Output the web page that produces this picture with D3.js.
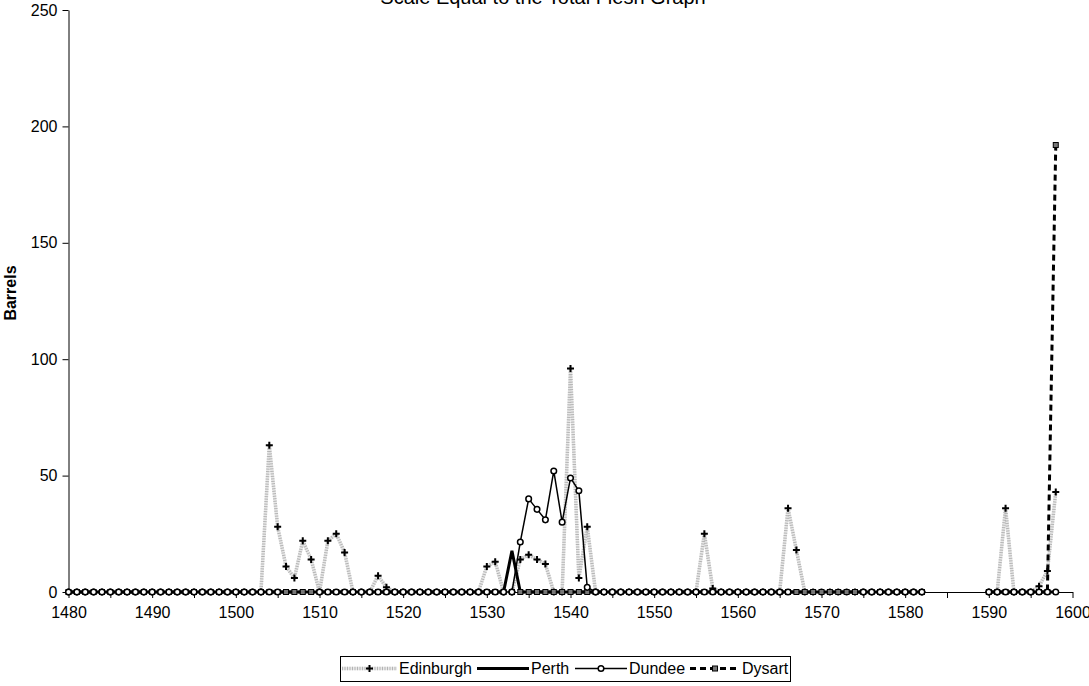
<!DOCTYPE html>
<html>
<head>
<meta charset="utf-8">
<script src="https://cdn.jsdelivr.net/npm/d3@7"></script>
<style>
  html, body { margin: 0; padding: 0; background: #fff; }
  svg { display: block; font-family: "Liberation Sans", Arial, sans-serif; }
</style>
</head>
<body>
<svg id="chart" width="1089" height="686"></svg>
<script>
// Years 1480–1598; 1583–1589 have no records (null)
const years = [
  1480,1481,1482,1483,1484,1485,1486,1487,1488,1489,
  1490,1491,1492,1493,1494,1495,1496,1497,1498,1499,
  1500,1501,1502,1503,1504,1505,1506,1507,1508,1509,
  1510,1511,1512,1513,1514,1515,1516,1517,1518,1519,
  1520,1521,1522,1523,1524,1525,1526,1527,1528,1529,
  1530,1531,1532,1533,1534,1535,1536,1537,1538,1539,
  1540,1541,1542,1543,1544,1545,1546,1547,1548,1549,
  1550,1551,1552,1553,1554,1555,1556,1557,1558,1559,
  1560,1561,1562,1563,1564,1565,1566,1567,1568,1569,
  1570,1571,1572,1573,1574,1575,1576,1577,1578,1579,
  1580,1581,1582,1583,1584,1585,1586,1587,1588,1589,
  1590,1591,1592,1593,1594,1595,1596,1597,1598
];

const edinburgh = [
  0,0,0,0,0,0,0,0,0,0,
  0,0,0,0,0,0,0,0,0,0,
  0,0,0,0,63,28,11,6,22,14,
  0,22,25,17,0,0,0,7,2,0,
  0,0,0,0,0,0,0,0,0,0,
  11,13,0,0,14,16,14,12,0,0,
  96,6,28,0,0,0,0,0,0,0,
  0,0,0,0,0,0,25,1.5,0,0,
  0,0,0,0,0,0,36,18,0,0,
  0,0,0,0,0,0,0,0,0,0,
  0,0,0,null,null,null,null,null,null,null,
  0,0,36,0,0,0,2.5,9,43
];

const perth = [
  0,0,0,0,0,0,0,0,0,0,
  0,0,0,0,0,0,0,0,0,0,
  0,0,0,0,0,0,0,0,0,0,
  0,0,0,0,0,0,0,0,0,0,
  0,0,0,0,0,0,0,0,0,0,
  0,0,0,17.7,0,0,0,0,0,0,
  0,0,0,0,0,0,0,0,0,0,
  0,0,0,0,0,0,0,0,0,0,
  0,0,0,0,0,0,0,0,0,0,
  0,0,0,0,0,0,0,0,0,0,
  0,0,0,null,null,null,null,null,null,null,
  0,0,0,0,0,0,0,0,0
];

const dundee = [
  0,0,0,0,0,0,0,0,0,0,
  0,0,0,0,0,0,0,0,0,0,
  0,0,0,0,0,0,null,null,null,null,
  0,0,0,0,0,0,0,0,0,0,
  0,0,0,0,0,0,0,0,0,0,
  0,0,0,0,21.5,40,35.5,31,52,30,
  49,43.5,2,0,0,0,0,0,0,0,
  0,0,0,0,0,0,0,0,0,0,
  0,0,0,0,0,0,0,null,null,null,
  null,null,null,null,null,0,0,0,0,0,
  0,0,0,null,null,null,null,null,null,null,
  0,0,0,0,0,0,0,0,0
];

const dysart = [
  0,0,0,0,0,0,0,0,0,0,
  0,0,0,0,0,0,0,0,0,0,
  0,0,0,0,0,0,0,0,0,0,
  0,0,0,0,0,0,0,0,0,0,
  0,0,0,0,0,0,0,0,0,0,
  0,0,0,0,0,0,0,0,0,0,
  0,0,0,0,0,0,0,0,0,0,
  0,0,0,0,0,0,0,0,0,0,
  0,0,0,0,0,0,0,0,0,0,
  0,0,0,0,0,0,0,0,0,0,
  0,0,0,null,null,null,null,null,null,null,
  0,0,0,0,0,0,0,0,192
];

const seriesNames = ["Edinburgh", "Perth", "Dundee", "Dysart"];
const xTickLabels = [1480,1490,1500,1510,1520,1530,1540,1550,1560,1570,1580,1590,1600];
const yTickLabels = [0,50,100,150,200,250];
const title = "Scale Equal to the Total Flesh Graph";
const yTitle = "Barrels";

const svg = d3.select("#chart");
const plot = { left: 68.5, right: 1072.5, top: 10, bottom: 592 };

const x = d3.scaleLinear().domain([1480, 1600]).range([plot.left, plot.right]);
const y = d3.scaleLinear().domain([0, 250]).range([plot.bottom, plot.top]);

// Title (sits at the very top edge)
svg.append("text")
  .attr("x", 543).attr("y", 4)
  .attr("text-anchor", "middle")
  .attr("font-size", 20)
  .text(title);

// Y axis
const yAxis = svg.append("g")
  .attr("transform", `translate(${plot.left},0)`)
  .call(d3.axisLeft(y).tickValues(yTickLabels).tickSize(6).tickPadding(5).tickSizeOuter(0));
yAxis.selectAll("text").attr("font-size", 16).attr("font-family", "Liberation Sans, Arial, sans-serif").attr("fill", "#000");

// X axis: ticks every 5 years, labels every 10
const xAxis = svg.append("g")
  .attr("transform", `translate(0,${plot.bottom})`)
  .call(d3.axisBottom(x).tickValues(d3.range(1480, 1601, 5)).tickSize(6).tickPadding(9).tickSizeOuter(0)
    .tickFormat(d => xTickLabels.includes(d) ? String(d) : ""));
xAxis.selectAll("text").attr("font-size", 16).attr("font-family", "Liberation Sans, Arial, sans-serif").attr("fill", "#000");
svg.selectAll(".domain, .tick line").attr("stroke", "#000").attr("stroke-width", 1);

// Y axis title
svg.append("text")
  .attr("transform", `translate(16,293) rotate(-90)`)
  .attr("text-anchor", "middle")
  .attr("font-size", 16)
  .attr("font-weight", "bold")
  .text(yTitle);

const toPoints = vals => years.map((yr, i) => ({ yr, v: vals[i] }));
const line = d3.line()
  .defined(d => d.v !== null)
  .x(d => x(d.yr))
  .y(d => y(d.v));

const g = svg.append("g");

// Marker shapes
function plus(sel, cx, cy) {
  sel.append("path")
    .attr("d", `M${cx - 3.5},${cy}H${cx + 3.5}M${cx},${cy - 3.5}V${cy + 3.5}`)
    .attr("stroke", "#000").attr("stroke-width", 2).attr("fill", "none");
}
function circleMark(sel, cx, cy) {
  sel.append("circle").attr("cx", cx).attr("cy", cy).attr("r", 2.8)
    .attr("fill", "#fff").attr("stroke", "#000").attr("stroke-width", 1.5);
}
function squareMark(sel, cx, cy) {
  sel.append("rect").attr("x", cx - 2.5).attr("y", cy - 2.5).attr("width", 5).attr("height", 5)
    .attr("fill", "#777").attr("stroke", "#000").attr("stroke-width", 1);
}

// Edinburgh: light textured grey band with + markers
function edinburghStroke(sel, d) {
  sel.append("path").attr("d", d).attr("fill", "none")
    .attr("stroke", "#e8e8e8").attr("stroke-width", 3.5).attr("stroke-linejoin", "round");
  sel.append("path").attr("d", d).attr("fill", "none")
    .attr("stroke", "#b4b4b4").attr("stroke-width", 3.5).attr("stroke-dasharray", "1,1.5");
}
const edPts = toPoints(edinburgh);
edinburghStroke(g, line(edPts));
edPts.filter(d => d.v !== null).forEach(d => plus(g, x(d.yr), y(d.v)));

// Perth: heavy black line
const pePts = toPoints(perth);
g.append("path").attr("d", line(pePts)).attr("fill", "none")
  .attr("stroke", "#000").attr("stroke-width", 3);

// Dysart: dashed black line with small squares
const dyPts = toPoints(dysart);
g.append("path").attr("d", line(dyPts)).attr("fill", "none")
  .attr("stroke", "#000").attr("stroke-width", 3).attr("stroke-dasharray", "6,4");
dyPts.filter(d => d.v !== null).forEach(d => squareMark(g, x(d.yr), y(d.v)));

// Dundee: thin black line with open circles
const duPts = toPoints(dundee);
g.append("path").attr("d", line(duPts)).attr("fill", "none")
  .attr("stroke", "#000").attr("stroke-width", 1.5);
duPts.filter(d => d.v !== null).forEach(d => circleMark(g, x(d.yr), y(d.v)));

// Legend
const legend = svg.append("g");
const ly = 668.5;
const items = [
  { name: seriesNames[0], x0: 342, x1: 397, tx: 399 },
  { name: seriesNames[1], x0: 477, x1: 529, tx: 531 },
  { name: seriesNames[2], x0: 575, x1: 627, tx: 629 },
  { name: seriesNames[3], x0: 690, x1: 740, tx: 742 }
];
legend.append("rect")
  .attr("x", 340.5).attr("y", 656.5).attr("width", 450).attr("height", 25)
  .attr("fill", "#fff").attr("stroke", "#000").attr("stroke-width", 1);
items.forEach((it, i) => {
  const d = `M${it.x0},${ly}H${it.x1}`;
  const mid = (it.x0 + it.x1) / 2;
  if (i === 0) { edinburghStroke(legend, d); plus(legend, mid, ly); }
  if (i === 1) legend.append("path").attr("d", d).attr("stroke", "#000").attr("stroke-width", 3);
  if (i === 2) { legend.append("path").attr("d", d).attr("stroke", "#000").attr("stroke-width", 1.5); circleMark(legend, mid, ly); }
  if (i === 3) { legend.append("path").attr("d", d).attr("stroke", "#000").attr("stroke-width", 3).attr("stroke-dasharray", "6,4"); squareMark(legend, mid, ly); }
  legend.append("text").attr("x", it.tx).attr("y", ly + 5.5)
    .attr("font-size", 16).text(it.name);
});
</script>
</body>
</html>
